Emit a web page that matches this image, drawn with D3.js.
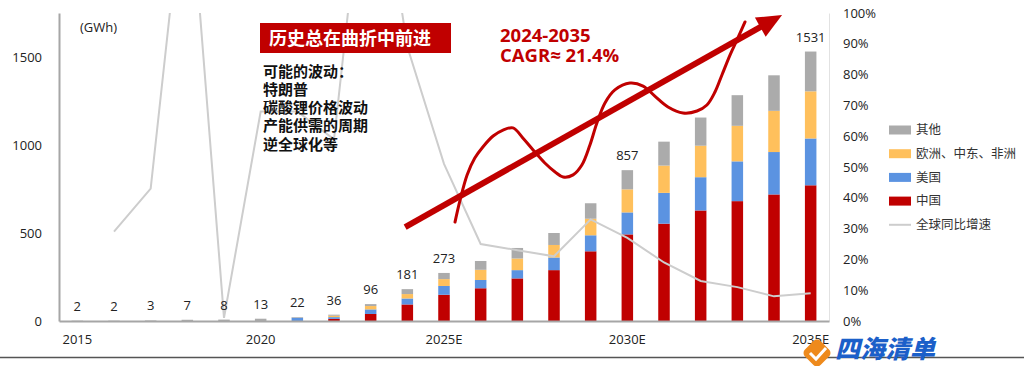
<!DOCTYPE html>
<html>
<head>
<meta charset="utf-8">
<script src="https://cdn.jsdelivr.net/npm/d3@7"></script>
<style>
  html, body { margin: 0; padding: 0; background: #fff; }
  svg { display: block; }
  text { font-family: "Open Sans", "Noto Sans CJK SC", sans-serif; }
  .cjk { font-family: "Noto Sans CJK SC", "Open Sans", sans-serif; }
</style>
</head>
<body>
<script>
// ---------------- data ----------------
const categories = ["2015","2016","2017","2018","2019","2020","2021","2022","2023","2024",
  "2025E","2026E","2027E","2028E","2029E","2030E","2031E","2032E","2033E","2034E","2035E"];
const tickLabels = ["2015","2020","2025E","2030E","2035E"];
const china = [0,0,0,0,0,0,0,12,40,94,149,186,242,289,396,492,553,628,681,719,771];
const usa   = [0,0,0,0,0,0,18,10,26,34,50,47,47,72,91,125,175,189,226,241,266];
const emea  = [0,0,0,0,0,0,0,8,19,25,39,58,66,71,94,131,155,179,202,234,268];
const other = [2,2,3,7,8,13,4,6,11,28,35,50,60,68,88,109,136,160,174,202,226];
const growth = [null,0.29,0.43,1.52,0.01,0.68,0.68,0.59,1.67,0.89,0.51,0.25,0.23,0.21,0.33,0.27,0.19,0.13,0.11,0.08,0.09];
const valueLabels = ["2","2","3","7","8","13","22","36","96","181","273","","","","","857","","","","","1531"];
const leftTicks = [0,500,1000,1500];
const seriesNames = ["中国","美国","欧洲、中东、非洲","其他"];
const lineName = "全球同比增速";
// annotation path, in [category index, GWh]
const squiggle = [[10.30,562],[10.44,688],[10.63,830],[10.84,926],[11.06,989],[11.34,1051],[11.61,1085],
  [11.88,1097],[12.15,1040],[12.43,972],[12.75,898],[13.03,847],[13.25,818],[13.52,830],[13.76,886],
  [13.98,1000],[14.17,1125],[14.39,1239],[14.66,1313],[15.07,1352],[15.43,1335],[15.75,1278],[16.11,1216],
  [16.52,1182],[16.90,1193],[17.17,1227],[17.39,1301],[17.58,1398],[17.80,1511],[17.99,1597],[18.21,1699]];
const trendArrow = [[8.94,534],[19.22,1739]];
const titleBox = "历史总在曲折中前进";
const noteLines = ["可能的波动：","特朗普","碳酸锂价格波动","产能供需的周期","逆全球化等"];
const cagrLines = ["2024-2035","CAGR≈ 21.4%"];

// ---------------- layout ----------------
const W = 1024, H = 366;
const M = {left: 59, right: 829, top: 13, bottom: 321};
const colors = {"中国":"#C00000","美国":"#5B93E1","欧洲、中东、非洲":"#FFC05C","其他":"#ABABAB"};
const red = "#C00000";

const svg = d3.select("body").append("svg").attr("width", W).attr("height", H);

const x = d3.scaleBand().domain(categories).range([M.left, M.right])
  .paddingInner(0.686).paddingOuter(0.343);
const y = d3.scaleLinear().domain([0, 1750]).range([M.bottom, M.top]);
const yR = d3.scaleLinear().domain([0, 1]).range([M.bottom, M.top]);
const xi = i => x(categories[0]) + x.bandwidth() / 2 + i * x.step();

// table
const table = categories.map((c, i) => ({cat: c, "中国": china[i], "美国": usa[i],
  "欧洲、中东、非洲": emea[i], "其他": other[i], growth: growth[i], label: valueLabels[i]}));
const stacked = d3.stack().keys(seriesNames)(table);

// axes
const gL = svg.append("g").attr("transform", `translate(${M.left},0)`)
  .call(d3.axisLeft(y).tickValues(leftTicks).tickFormat(d3.format("d")).tickSize(0).tickSizeOuter(0).tickPadding(17));
gL.select(".domain").attr("stroke", "#a6a6a6").attr("stroke-width", 2);
gL.selectAll("text").attr("font-size", 13).attr("fill", "#222");

const gR = svg.append("g").attr("transform", `translate(${M.right},0)`)
  .call(d3.axisRight(yR).ticks(10).tickFormat(d3.format(".0%")).tickSize(0).tickSizeOuter(0).tickPadding(14));
gR.select(".domain").attr("stroke", "#e2e2e2").attr("stroke-width", 1);
gR.selectAll("text").attr("font-size", 13).attr("fill", "#222");

// bars
svg.append("g").selectAll("g").data(stacked).join("g")
  .attr("fill", d => colors[d.key])
  .selectAll("rect").data(d => d).join("rect")
  .attr("x", d => x(d.data.cat))
  .attr("width", x.bandwidth())
  .attr("y", d => y(d[1]))
  .attr("height", d => Math.max(0, y(d[0]) - y(d[1])));

// bottom axis
const gB = svg.append("g").attr("transform", `translate(0,${M.bottom})`)
  .call(d3.axisBottom(x).tickValues(tickLabels).tickSize(0).tickSizeOuter(0).tickPadding(14));
gB.select(".domain").attr("stroke", "#a6a6a6").attr("stroke-width", 2);
gB.selectAll("text").attr("font-size", 13).attr("fill", "#222");

// growth line (right axis), clipped to plot
svg.append("clipPath").attr("id", "plotclip").append("rect")
  .attr("x", M.left).attr("y", M.top).attr("width", M.right - M.left).attr("height", M.bottom - M.top);
const line = d3.line().defined(d => d.growth != null)
  .x(d => x(d.cat) + x.bandwidth() / 2).y(d => yR(d.growth));
svg.append("path").datum(table).attr("clip-path", "url(#plotclip)")
  .attr("d", line).attr("fill", "none").attr("stroke", "#cdcdcd").attr("stroke-width", 2);

// value labels
svg.append("g").selectAll("text").data(table.filter(d => d.label !== "")).join("text")
  .attr("x", d => x(d.cat) + x.bandwidth() / 2)
  .attr("y", d => y(seriesNames.reduce((s, k) => s + d[k], 0)) - 10)
  .attr("text-anchor", "middle").attr("font-size", 13).attr("fill", "#222")
  .text(d => d.label);

// unit
svg.append("text").attr("x", 80).attr("y", 32).attr("font-size", 13).attr("fill", "#222").text("(GWh)");

// legend
const legendItems = ["其他","欧洲、中东、非洲","美国","中国"];
const lg = svg.append("g");
legendItems.forEach((k, i) => {
  const cy = 130 + i * 23.7;
  lg.append("rect").attr("x", 889).attr("y", cy - 4.5).attr("width", 22).attr("height", 9).attr("fill", colors[k]);
  lg.append("text").attr("class", "cjk").attr("x", 916).attr("y", cy + 4.3).attr("font-size", 12.5)
    .attr("fill", "#333").text(k);
});
{
  const cy = 130 + 4 * 23.7;
  lg.append("line").attr("x1", 889).attr("x2", 911).attr("y1", cy).attr("y2", cy)
    .attr("stroke", "#cdcdcd").attr("stroke-width", 2);
  lg.append("text").attr("class", "cjk").attr("x", 916).attr("y", cy + 4.3).attr("font-size", 12.5)
    .attr("fill", "#333").text(lineName);
}

// annotations: title box
svg.append("rect").attr("x", 260).attr("y", 23).attr("width", 191).attr("height", 30).attr("fill", red);
svg.append("text").attr("class", "cjk").attr("x", 269).attr("y", 44.5).attr("font-size", 18)
  .attr("font-weight", 700).attr("fill", "#fff").text(titleBox);

noteLines.forEach((t, i) => {
  svg.append("text").attr("class", "cjk").attr("x", 263).attr("y", 76.5 + i * 18.3)
    .attr("font-size", 15).attr("font-weight", 700).attr("fill", "#111").text(t);
});

cagrLines.forEach((t, i) => {
  svg.append("text").attr("x", 500).attr("y", 42 + i * 20).attr("font-size", 18.5)
    .attr("font-weight", 700).attr("fill", red).text(t);
});

// squiggle
svg.append("path")
  .attr("d", d3.line().x(d => xi(d[0])).y(d => y(d[1])).curve(d3.curveCatmullRom)(squiggle))
  .attr("fill", "none").attr("stroke", red).attr("stroke-width", 3).attr("stroke-linecap", "round");

// trend arrow
{
  const [a, b] = trendArrow;
  const x1 = xi(a[0]), y1 = y(a[1]), x2 = xi(b[0]), y2 = y(b[1]);
  const ang = Math.atan2(y2 - y1, x2 - x1);
  const L = 25, hw = 11;
  const bx = x2 - L * Math.cos(ang), by = y2 - L * Math.sin(ang);
  svg.append("line").attr("x1", x1).attr("y1", y1).attr("x2", bx + 3 * Math.cos(ang)).attr("y2", by + 3 * Math.sin(ang))
    .attr("stroke", red).attr("stroke-width", 6);
  const px = -Math.sin(ang), py = Math.cos(ang);
  svg.append("path").attr("d",
    `M${x2},${y2} L${bx + hw * px},${by + hw * py} L${bx - hw * px},${by - hw * py} Z`).attr("fill", red);
}

// footer rule
svg.append("line").attr("x1", 0).attr("x2", W).attr("y1", 357.5).attr("y2", 357.5)
  .attr("stroke", "#555").attr("stroke-width", 1.5);

// watermark
{
  const g = svg.append("g");
  g.append("rect").attr("x", 806).attr("y", 342).attr("width", 22).attr("height", 22).attr("rx", 5)
    .attr("fill", "#EE8A1C").attr("transform", "rotate(45,817,353)");
  g.append("path").attr("d", "M810,353 l6,6 l10,-11").attr("fill", "none").attr("stroke", "#fff").attr("stroke-width", 3);
  g.append("text").attr("class", "cjk").attr("x", 835).attr("y", 358).attr("font-size", 25)
    .attr("font-weight", 900).attr("font-style", "italic").attr("fill", "#1B5FC9").text("四海清单");
}
</script>
</body>
</html>
